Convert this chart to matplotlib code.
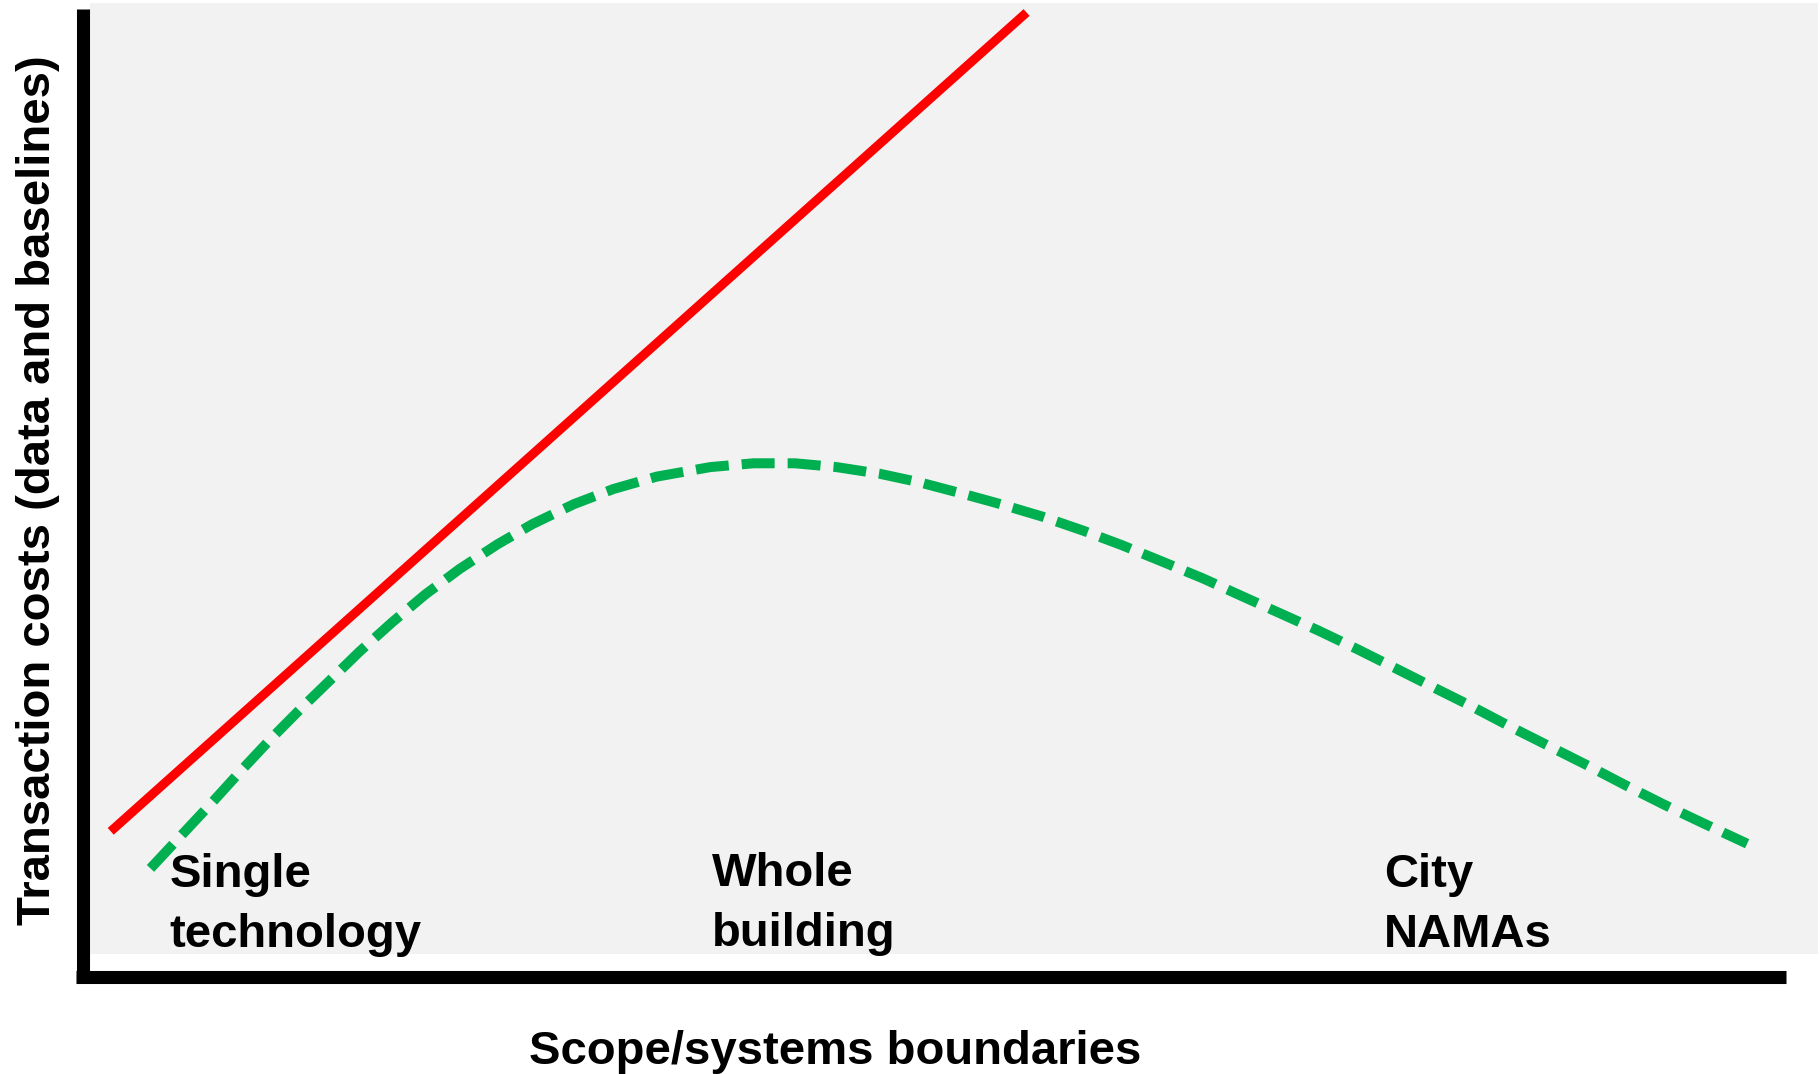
"""
Transaction costs vs. scope/systems boundaries (conceptual sketch)
"""

import matplotlib
matplotlib.use('Agg')
import matplotlib.pyplot as plt
from matplotlib.lines import Line2D

# --- data (abstract 0-100 scale on both axes) ---
red_x = [1.2, 54.2]
red_y = [12.9, 99.0]

green_x = [3.5, 5.4, 7.1, 8.7, 10.4, 12.2, 13.9, 15.6, 17.5, 19.4, 21.4,
           23.6, 25.6, 28.0, 30.3, 32.8, 35.9, 38.4, 40.8, 43.2, 45.7, 48.0,
           50.5, 52.7, 55.1, 57.5, 59.7, 62.0, 64.4, 66.7, 68.9, 71.1, 73.4,
           75.6, 77.9, 80.0, 82.2, 84.5, 86.8, 88.8, 91.1, 93.3, 95.9]
green_y = [9.0, 12.7, 16.0, 19.2, 22.5, 25.8, 28.8, 31.8, 34.9, 37.8, 40.5,
           43.1, 45.2, 47.3, 48.9, 50.2, 51.2, 51.6, 51.6, 51.2, 50.5, 49.6,
           48.4, 47.3, 46.0, 44.5, 43.0, 41.3, 39.5, 37.6, 35.8, 34.0, 32.0,
           30.0, 27.9, 26.0, 23.9, 21.8, 19.7, 17.8, 15.7, 13.8, 11.6]

stage_labels = ['Single\ntechnology', 'Whole\nbuilding', 'City\nNAMAs']
stage_x = [4.6, 36.0, 74.9]
stage_y = [0.74, 0.85, 0.74]   # baseline of the second line

xlabel = 'Scope/systems boundaries'
ylabel = 'Transaction costs (data and baselines)'

W, H = 1820, 1074
FONT = dict(family='Liberation Sans', weight='bold', size=34)


def px(x, y):
    """pixel position (from top-left) -> figure fraction"""
    return x / W, 1 - y / H


fig = plt.figure(figsize=(W / 100, H / 100), dpi=100)

# grey plotting area
l, t = px(90, 3)
r, b = px(1818, 954)
ax = fig.add_axes([l, b, r - l, t - b], facecolor='#f2f2f2')
ax.set_xlim(0, 100)
ax.set_ylim(0, 100)
ax.set_xticks([])
ax.set_yticks([])
for s in ax.spines.values():
    s.set_visible(False)

ax.plot(red_x, red_y, color='#ff0000', lw=6.5, solid_capstyle='butt')
ax.plot(green_x, green_y, color='#00b050', lw=7.2,
        linestyle=(0, (3.3, 1.3)), dash_capstyle='butt')

for lab, x, y in zip(stage_labels, stage_x, stage_y):
    ax.text(x, y, lab, ha='left', va='baseline', linespacing=1.475,
            clip_on=False, **FONT)

# thick black axis lines
x0, y0 = px(82.5, 9)
x1, y1 = px(82.5, 983)
fig.add_artist(Line2D([x0, x1], [y0, y1], color='black', lw=9.4,
                      solid_capstyle='butt', transform=fig.transFigure))
x0, y0 = px(76, 976.5)
x1, y1 = px(1786, 976.5)
fig.add_artist(Line2D([x0, x1], [y0, y1], color='black', lw=9.4,
                      solid_capstyle='butt', transform=fig.transFigure))

# axis titles
fx, fy = px(835, 1064)
fig.text(fx, fy, xlabel, ha='center', va='baseline', **FONT)
fx, fy = px(50, 490)
fig.text(fx, fy, ylabel, ha='center', va='baseline', rotation=90,
         rotation_mode='anchor', **FONT)

fig.savefig('out.png', dpi=100)
